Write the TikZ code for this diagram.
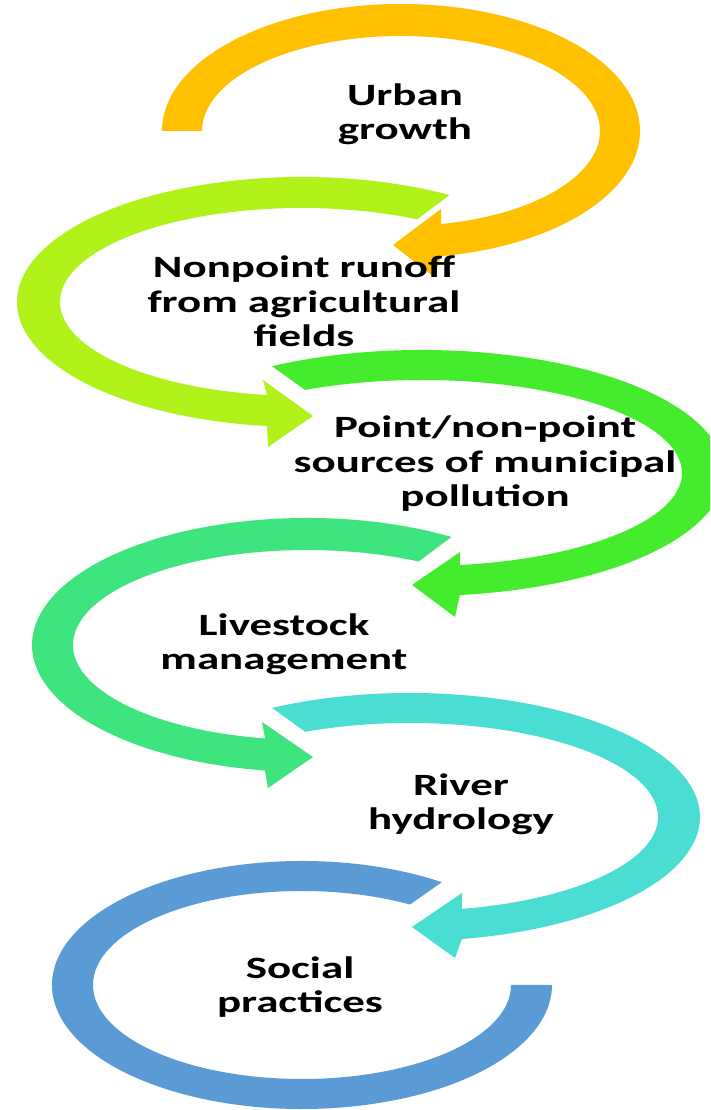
\documentclass[tikz,border=0pt]{standalone}
\usepackage{fontspec}
\newfontfamily\lblfont{Carlito}[FakeStretch=1.45]
\usetikzlibrary{calc}
\definecolor{cOrange}{HTML}{FFC000}
\definecolor{cLime}{HTML}{B0F21A}
\definecolor{cGreen}{HTML}{45EC2D}
\definecolor{cSea}{HTML}{3EE47E}
\definecolor{cTurq}{HTML}{4ADDD4}
\definecolor{cBlue}{HTML}{5B9BD5}
\begin{document}
\begin{tikzpicture}[x=1pt,y=1pt,
  lbl/.style={font=\lblfont\bfseries\fontsize{31}{34.5}\selectfont,
    align=center, anchor=base, inner sep=0pt, text=black}]
\clip (0,0) rectangle (710,1110);
\fill[white] (0,0) rectangle (710,1110);
% 1 Urban growth
\fill[cOrange] (401,979) ++(180:239pt and 127pt)
  arc[start angle=180, end angle=-80.4, x radius=239pt, y radius=127pt]
  -- (434,833) -- (393,865) -- (441,901)
  -- ($(401,979)+(-78.4:199pt and 95pt)$)
  arc[start angle=-78.4, end angle=180, x radius=199pt, y radius=95pt] -- cycle;
% 2 Nonpoint runoff
\fill[cLime] (302,808) ++(58.8:285pt and 125pt)
  arc[start angle=58.8, end angle=262.95, x radius=285pt, y radius=125pt]
  -- (268,663) -- (313,694) -- (263,730)
  -- ($(302,808)+(261.7:242pt and 94pt)$)
  arc[start angle=261.7, end angle=61.6, x radius=242pt, y radius=94pt] -- cycle;
% 3 Point/non-point
\fill[cGreen] (422,637) ++(119.8:302pt and 123pt)
  arc[start angle=119.8, end angle=-82.8, x radius=302pt, y radius=123pt]
  -- (455,493) -- (412,525) -- (460,558)
  -- ($(422,637)+(-81.6:260pt and 93pt)$)
  arc[start angle=-81.6, end angle=116.7, x radius=260pt, y radius=93pt] -- cycle;
% 4 Livestock
\fill[cSea] (307,465) ++(58.3:275pt and 127pt)
  arc[start angle=58.3, end angle=261.2, x radius=275pt, y radius=127pt]
  -- (268,322) -- (313,353) -- (262,388)
  -- ($(307,465)+(259.7:234pt and 95pt)$)
  arc[start angle=259.7, end angle=61.5, x radius=234pt, y radius=95pt] -- cycle;
% 5 River hydrology
\fill[cTurq] (410,293) ++(118.4:290pt and 124pt)
  arc[start angle=118.4, end angle=-79.7, x radius=290pt, y radius=124pt]
  -- (455,152) -- (412,183) -- (462,217)
  -- ($(410,293)+(-77.9:248pt and 94pt)$)
  arc[start angle=-77.9, end angle=115, x radius=248pt, y radius=94pt] -- cycle;
% 6 Social practices
\fill[cBlue] (302,125) ++(56:250pt and 124pt)
  arc[start angle=56, end angle=360, x radius=250pt, y radius=124pt]
  -- ($(302,125)+(0:209pt and 94pt)$)
  arc[start angle=360, end angle=58.9, x radius=209pt, y radius=94pt] -- cycle;
% labels (anchor = baseline of the last line)
\node[lbl] (t1) at (405,970) {Urban\\growth};
\node[lbl] (t2) at (304,763) {Nonpoint runoff\\from agricultural\\fields};
\node[lbl] (t3) at (485,603) {Point/non-point\\sources of municipal\\pollution};
\node[lbl] (t4) at (284,440) {Livestock\\management};
\node[lbl] (t5) at (461,280) {River\\hydrology};
\node[lbl] (t6) at (300,97) {Social\\practices};
\end{tikzpicture}
\end{document}
